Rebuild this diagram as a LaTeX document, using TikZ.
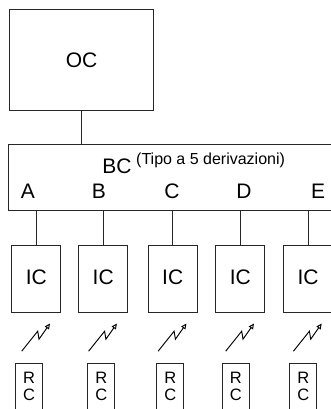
\documentclass[tikz,border=0pt]{standalone}
\usepackage{fontspec}
\setmainfont{Liberation Sans}
\usetikzlibrary{arrows.meta,calc}
\tikzset{
  box/.style={draw=black!85, line width=1pt, inner sep=0pt, rectangle},
  big/.style={font=\fontsize{21}{24}\selectfont, inner sep=0pt},
  small/.style={font=\fontsize{16}{19}\selectfont, inner sep=0pt},
  rctext/.style={font=\fontsize{16.5}{16.5}\selectfont, inner sep=0pt, align=center},
  wire/.style={draw=black!85, line width=1pt},
  bolt/.style={draw=black, line width=0.95pt, -{Triangle[open,length=5.5pt,width=5pt]}}
}
\begin{document}
\begin{tikzpicture}[x=1pt,y=-1pt]
\useasboundingbox (0,0) rectangle (331,409);
\clip (0,0) rectangle (331,409);
% OC
\node[box, minimum width=144pt, minimum height=101pt] (oc) at (81.5,60) {};
\node[big] (octext) at (81.5,60.5) {OC};
% BC
\node[box, minimum width=332pt, minimum height=66.7pt] (bc) at (174,177.35) {};
\node[big] (bctext) at (117,166) {BC};
\node[small, anchor=west] (tipo) at (136,160.5) {(Tipo a 5 derivazioni)};
\draw[wire] (oc.south -| octext) -- (bc.north -| octext);
% letters
\foreach \n/\l/\x in {1/A/28,2/B/99,3/C/172,4/D/244,5/E/318}{
  \node[big] (let\n) at (\x,191.5) {\l};
}
% IC boxes
\foreach \n/\cx in {1/36.3,2/103.2,3/172.7,4/240.3,5/308}{
  \node[box, minimum width=49pt, minimum height=67.3pt] (ic\n) at (\cx,278.65) {};
  \node[big] (ictext\n) at (\cx,277.5) {IC};
  \draw[wire] (bc.south -| ic\n.center) -- (ic\n.north);
  \draw[bolt] ($(ic\n.south)+(-14.6,38.4)$) -- ($(ic\n.south)+(1.4,18.4)$) -- ($(ic\n.south)+(2.7,26.4)$) -- ($(ic\n.south)+(13.7,10.7)$);
}
% RC boxes
\foreach \n/\cx in {1/29.2,2/101.3,3/170.3,4/235.8,5/303.3}{
  \node[box, minimum width=27pt, minimum height=60pt, anchor=north] (rc\n) at (\cx,363.3) {};
  \node[rctext] (rct\n) at (\cx,386.5) {R\\C};
}
\end{tikzpicture}
\end{document}
